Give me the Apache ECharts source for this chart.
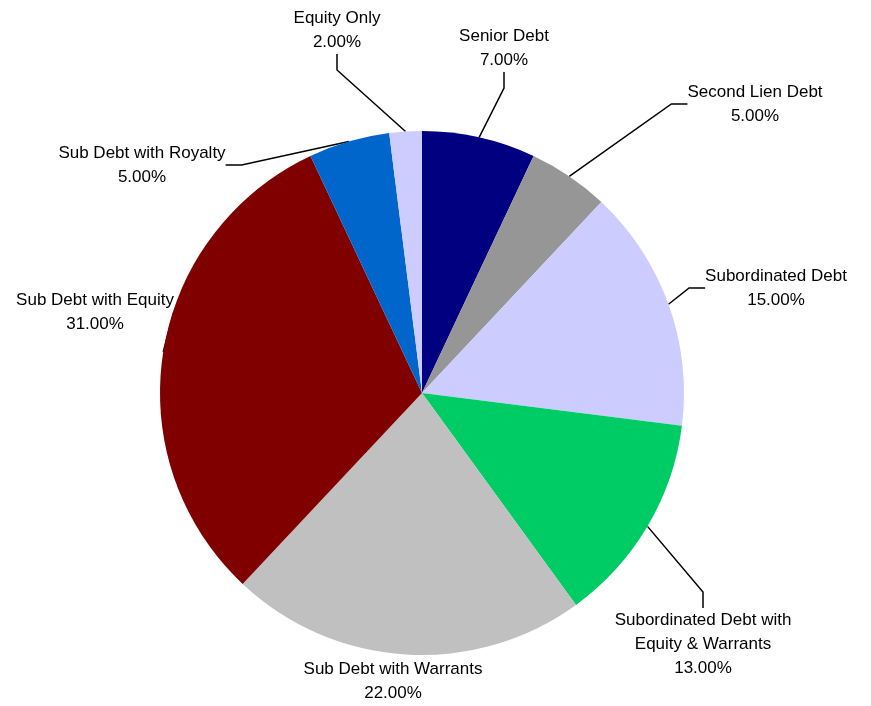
<!DOCTYPE html>
<html lang="en">
<head>
    <meta charset="UTF-8">
    <title>Debt mix</title>
    <script src="https://cdn.jsdelivr.net/npm/echarts@6/dist/echarts.min.js"></script>
    <style>
        html, body { margin: 0; padding: 0; height: 100%; overflow: hidden; background: #fff; }
        #chart { width: 871px; height: 706px; }
    </style>
</head>
<body>
    <div id="chart"></div>
    <script>
        // slices, clockwise from 12 o'clock
        var categories = ['Senior Debt', 'Second Lien Debt', 'Subordinated Debt',
            'Subordinated Debt with Equity & Warrants', 'Sub Debt with Warrants',
            'Sub Debt with Equity', 'Sub Debt with Royalty', 'Equity Only'];
        var labelNames = ['Senior Debt', 'Second Lien Debt', 'Subordinated Debt',
            'Subordinated Debt with\nEquity & Warrants', 'Sub Debt with Warrants',
            'Sub Debt with Equity', 'Sub Debt with Royalty', 'Equity Only'];
        var values = [7, 5, 15, 13, 22, 31, 5, 2];
        var colors = ['#000080', '#969696', '#CCCCFF', '#00CC66', '#C0C0C0', '#800000', '#0066CC', '#CCCCFF'];

        // where each label block sits (centre, px)
        var labelSpots = [[504, 48], [755, 104], [776, 288], [703, 644],
            [393, 681], [95, 312], [142, 165], [337, 30]];

        var pieData = categories.map(function (c, i) {
            var d = { name: c, value: values[i], itemStyle: { color: colors[i] } };
            // bottom label sits right under the pie, no leader there
            if (i === 4) d.labelLine = { show: false };
            return d;
        });

        var chart = echarts.init(document.getElementById('chart'), null, { renderer: 'canvas' });
        chart.setOption({
            animation: false,
            series: [{
                type: 'pie',
                center: [422, 393],
                radius: 262,
                startAngle: 90,
                clockwise: true,
                data: pieData,
                itemStyle: { borderWidth: 0 },
                label: {
                    show: true,
                    position: 'outside',
                    fontFamily: '"Liberation Sans", Arial, sans-serif',
                    fontSize: 17,
                    color: '#000',
                    lineHeight: 24,
                    align: 'center',
                    overflow: 'none',
                    formatter: function (p) {
                        return labelNames[p.dataIndex] + '\n' + p.value.toFixed(2) + '%';
                    }
                },
                labelLine: {
                    show: true,
                    length: 20,
                    length2: 16,
                    lineStyle: { color: '#000', width: 1.5 }
                },
                labelLayout: function (p) {
                    var s = labelSpots[p.dataIndex];
                    return {
                        x: s[0],
                        y: s[1],
                        align: 'center',
                        verticalAlign: 'middle'
                    };
                },
                emphasis: { disabled: true }
            }]
        });
    </script>
</body>
</html>
